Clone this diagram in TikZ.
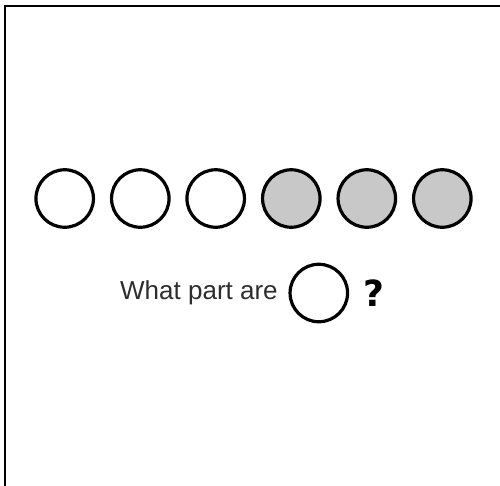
\documentclass[tikz,border=0pt]{standalone}
\usepackage{fontspec}
\setmainfont{Liberation Sans}
\newfontfamily\qfont{DejaVu Sans}
\definecolor{txtgray}{RGB}{45,45,45}
\definecolor{fillgray}{RGB}{200,200,200}
\begin{document}
\begin{tikzpicture}[x=1pt,y=-1pt,
  dot/.style={circle,draw=black,line width=3.2pt,minimum size=57.5pt,inner sep=0pt,fill=white},
  shaded/.style={dot,fill=fillgray}]
\useasboundingbox (0,0) rectangle (500,485);
\draw[line width=2.4pt] (5,490) -- (5,5.7) -- (505,5.7);
\node[dot] (c1) at (64.7,198.5) {};
\node[dot] (c2) at (140.3,198.5) {};
\node[dot] (c3) at (215.7,198.5) {};
\node[shaded] (c4) at (291.3,198.5) {};
\node[shaded] (c5) at (366.8,198.5) {};
\node[shaded] (c6) at (442.3,198.5) {};
\node[anchor=base west,inner sep=0pt,text=txtgray,font=\fontsize{26}{30}\selectfont] (q) at (120,299) {What part are};
\node[dot] (c7) at (318.8,293) {};
\node[anchor=base west,inner sep=0pt,font=\qfont\bfseries\fontsize{36}{40}\selectfont] (qm) at (363,306) {?};
\end{tikzpicture}
\end{document}
